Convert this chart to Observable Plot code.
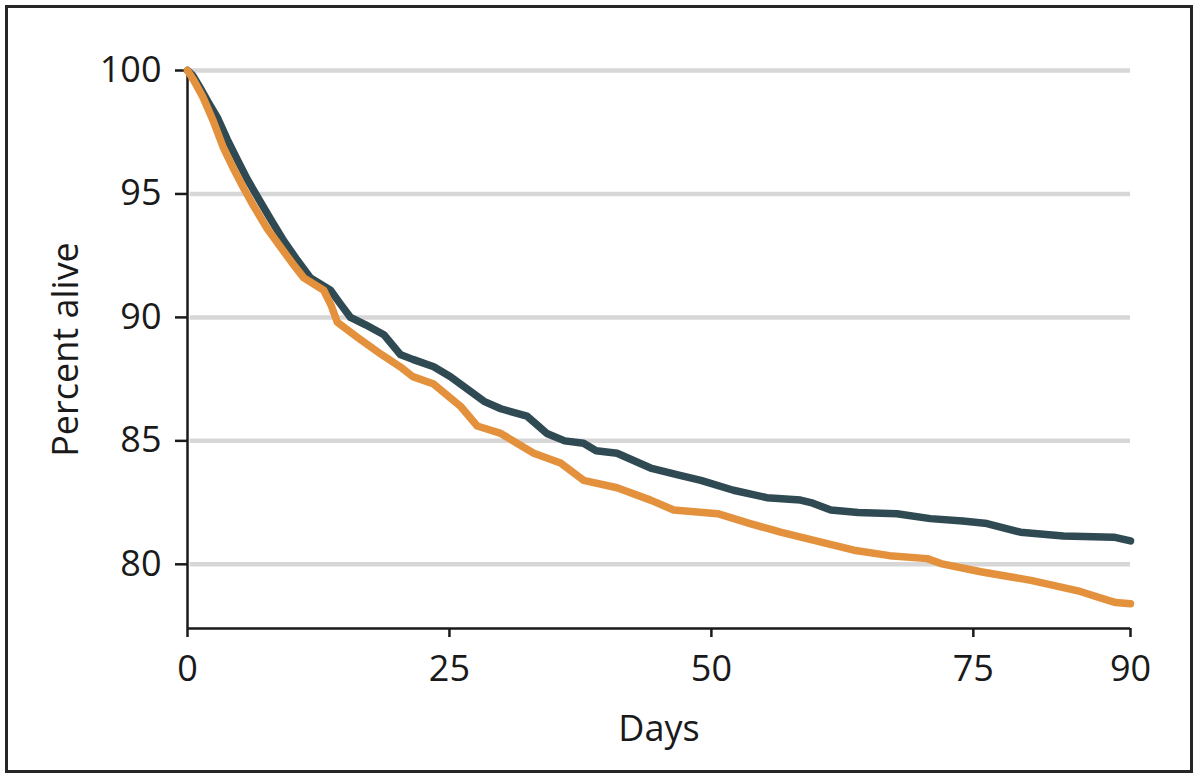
<!DOCTYPE html>
<html>
<head>
<meta charset="utf-8">
<script src="https://cdn.jsdelivr.net/npm/d3@7"></script>
<script src="https://cdn.jsdelivr.net/npm/@observablehq/plot@0.6"></script>
<style>
  html, body { margin: 0; padding: 0; background: #fff; }
  #wrap { position: relative; width: 1200px; height: 781px; overflow: hidden; }
  #frame { position: absolute; left: 5px; top: 5px; width: 1188px; height: 768px; box-sizing: border-box; border: 3px solid #262626; pointer-events: none; }
</style>
</head>
<body>
<div id="wrap"><div id="frame"></div></div>
<script>
const xTicks = [0, 25, 50, 75, 90];
const yTicks = [80, 85, 90, 95, 100];
const xLabel = "Days";
const yLabel = "Percent alive";

const darkDays = [0,0.5,1.2,2,2.84,3.8,4.74,5.7,6.65,7.9,9.19,10.5,11.74,13.65,14.5,15.56,17,18.74,20.3,21.5,23.5,25.1,26.7,28.3,29.9,32.4,33.5,34.3,36,37.8,39,41,44.2,47,49,52.1,55.3,58.5,59.5,61.4,64,67.7,70.9,74,76.3,79.5,83.6,88.4,90];
const darkVals = [100,99.8,99.3,98.7,98.1,97.2,96.4,95.6,94.9,94.0,93.1,92.3,91.6,91.1,90.6,90.0,89.7,89.3,88.5,88.3,88.0,87.6,87.1,86.6,86.3,86.0,85.6,85.3,85.0,84.9,84.6,84.5,83.9,83.6,83.4,83.0,82.7,82.6,82.5,82.2,82.1,82.05,81.85,81.75,81.65,81.3,81.15,81.1,80.95];

const orangeDays = [0,0.6,1.5,2.51,3.4,4.42,5.4,6.33,7.6,8.88,10,11.1,13,13.7,14.3,16.2,18.5,20.3,21.5,23.5,26.06,27.65,29.9,33.05,35.6,37.8,41,44.2,46.4,50.6,53.7,56.6,59.8,63.6,67,70.6,71.9,75.7,80.5,85.2,87.8,88.6,90];
const orangeVals = [100,99.6,98.9,97.9,96.9,96.0,95.2,94.5,93.6,92.85,92.2,91.6,91.1,90.5,89.8,89.2,88.5,88.0,87.6,87.3,86.4,85.6,85.3,84.5,84.1,83.4,83.1,82.6,82.2,82.05,81.65,81.3,80.97,80.57,80.35,80.23,80.03,79.7,79.35,78.9,78.55,78.45,78.4];

const dark = darkDays.map((d, i) => ({day: d, pct: darkVals[i]}));
const orange = orangeDays.map((d, i) => ({day: d, pct: orangeVals[i]}));

const yMin = 77.4;

const chart = Plot.plot({
  width: 1200,
  height: 781,
  marginLeft: 187,
  marginRight: 70,
  marginTop: 70,
  marginBottom: 153,
  style: { fontFamily: "'Open Sans', sans-serif", fontSize: "36px", color: "#1a1a1a", background: "transparent" },
  x: { domain: [0, 90] },
  y: { domain: [yMin, 100] },
  marks: [
    Plot.ruleY(yTicks, { x1: 0.25, x2: 90, stroke: "#d7d7d7", strokeWidth: 4.5 }),
    Plot.axisX({ ticks: xTicks, tickSize: 9, tickPadding: 18, strokeWidth: 2.5, stroke: "#1a1a1a", fontSize: 36, label: xLabel, labelAnchor: "center", labelOffset: 112, labelArrow: false }),
    Plot.axisY({ ticks: yTicks, tickSize: 12, tickPadding: 14, strokeWidth: 2.5, stroke: "#1a1a1a", fontSize: 36, label: yLabel, labelAnchor: "center", labelOffset: 135, labelArrow: false }),
    Plot.ruleX([0], { y1: yMin, y2: 100, stroke: "#1a1a1a", strokeWidth: 2.5 }),
    Plot.ruleY([yMin], { x1: 0, x2: 90, stroke: "#1a1a1a", strokeWidth: 2.5 }),
    Plot.line(dark, { x: "day", y: "pct", stroke: "#2f4a52", strokeWidth: 7.5, strokeLinejoin: "round" }),
    Plot.line(orange, { x: "day", y: "pct", stroke: "#e4913e", strokeWidth: 7.5, strokeLinejoin: "round" })
  ]
});
document.getElementById("wrap").insertBefore(chart, document.getElementById("frame"));
</script>
</body>
</html>
